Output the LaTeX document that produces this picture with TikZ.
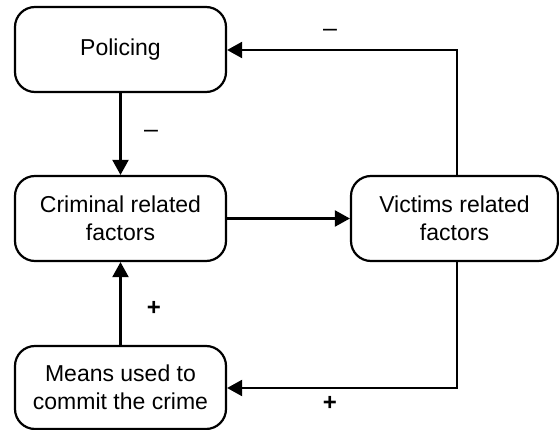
\documentclass[tikz,border=0pt]{standalone}
\usepackage{fontspec}
\setmainfont{Liberation Sans}
\usetikzlibrary{arrows.meta}
\begin{document}
\begin{tikzpicture}[x=1pt,y=-1pt,
  box/.style={draw, line width=2.2pt, rounded corners=20pt, minimum width=211pt, minimum height=85pt, inner sep=0pt, align=center, font=\fontsize{23}{28.5}\selectfont},
  conn/.style={line width=2.2pt, -{Triangle[length=15pt,width=16pt]}},
  minuslbl/.style={font=\fontsize{25}{26}\selectfont, inner sep=0pt},
  pluslbl/.style={font=\fontsize{24}{26}\selectfont\bfseries, inner sep=0pt}]
\useasboundingbox (0,0) rectangle (559,430);
\node[box] (pol) at (120.5,49.5) {Policing};
\node[box] (crim) at (120.5,218.5) {Criminal related\\factors};
\node[box, minimum width=207pt] (vic) at (454.5,218.5) {Victims related\\factors};
\node[box, minimum height=83pt] (mean) at (120.5,387.5) {Means used to\\commit the crime};
\coordinate (tr) at (457,50);
\coordinate (br) at (457,388);
\draw[conn] (pol.south) -- (crim.north);
\draw[conn] (crim.east) -- (vic.west);
\draw[conn] (mean.north) -- (crim.south);
\draw[conn] (vic.north -| tr) -- (tr) -- (pol.east |- tr);
\draw[conn] (vic.south -| br) -- (br) -- (mean.east |- br);
\node[minuslbl] (m1) at (151,134) {–};
\node[minuslbl] (m2) at (330,33) {–};
\node[pluslbl] (p1) at (154,308) {+};
\node[pluslbl] (p2) at (330,403) {+};
\end{tikzpicture}
\end{document}
